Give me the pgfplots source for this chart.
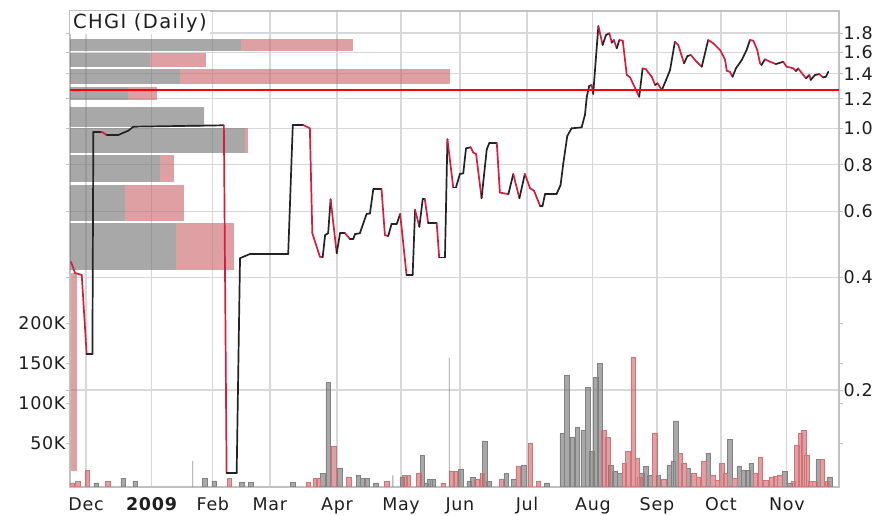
\documentclass[border=0pt]{standalone}
\usepackage{pgfplots}
\pgfplotsset{compat=1.18}
\usepackage{fontspec}
\setmainfont{DejaVu Sans}
\newfontfamily\labfont[LetterSpace=4]{DejaVu Sans}
\newfontfamily\ttlfont[LetterSpace=7]{DejaVu Sans}
\definecolor{gridc}{RGB}{216,216,216}
\definecolor{framec}{RGB}{192,192,192}
\definecolor{labc}{RGB}{30,30,30}
\definecolor{vgray}{RGB}{110,110,110}
\definecolor{vpink}{RGB}{200,97,100}
\definecolor{vgrayE}{RGB}{130,130,130}
\definecolor{vpinkE}{RGB}{210,115,120}

\pgfplotstableread{
d p m
-4.9 0.440 1
-3.6 0.411 1
-1.4 0.406 1
0.2 0.250 0
2.1 0.250 0
2.4 0.980 0
5.1 0.980 1
6.8 0.961 0
10.6 0.961 0
13.9 0.987 0
15.5 1.011 0
45.2 1.020 1
46.1 0.120 0
49.4 0.120 0
50.5 0.450 0
52.1 0.456 0
53.8 0.462 0
66.3 0.462 0
67.8 1.022 0
71.2 1.022 1
73.4 1.001 1
74.2 0.525 1
76.7 0.454 1
77.6 0.453 0
78.4 0.519 0
79.4 0.525 0
80.2 0.647 1
82.2 0.464 0
83.3 0.525 0
84.9 0.525 1
86.6 0.506 0
87.6 0.506 0
88.2 0.522 0
89.8 0.525 0
92.0 0.591 0
93.1 0.593 0
94.2 0.688 0
96.9 0.688 1
98.0 0.519 1
99.1 0.516 0
100.2 0.556 0
101.9 0.556 0
103.0 0.591 1
105.1 0.406 0
107.1 0.406 0
107.9 0.606 1
109.3 0.546 0
110.4 0.647 0
111.1 0.647 1
112.2 0.558 0
115.0 0.558 1
115.8 0.452 0
117.7 0.452 0
118.5 0.936 1
120.4 0.696 0
121.3 0.696 0
122.6 0.756 0
123.7 0.759 0
124.6 0.885 0
126.1 0.891 1
127.0 0.862 1
127.9 0.855 1
129.7 0.651 0
131.4 0.880 0
132.2 0.913 0
134.7 0.913 1
135.7 0.674 1
138.5 0.668 0
140.1 0.756 1
142.1 0.651 0
143.9 0.756 1
145.6 0.692 1
146.9 0.682 1
148.9 0.621 0
149.7 0.621 0
150.5 0.668 0
154.3 0.668 0
155.6 0.706 0
156.5 0.807 0
157.8 0.955 0
159.2 1.001 0
162.5 1.007 0
163.6 1.087 0
164.2 1.216 0
165.0 1.299 0
165.8 1.307 1
166.3 1.237 0
168.0 1.879 1
169.4 1.672 0
170.5 1.778 0
171.6 1.797 1
172.4 1.696 0
173.1 1.724 1
174.0 1.638 0
174.9 1.724 1
176.0 1.717 1
177.3 1.390 1
178.4 1.370 1
180.6 1.254 1
181.4 1.216 0
182.5 1.448 1
183.6 1.440 1
184.4 1.410 1
185.5 1.375 1
186.6 1.307 0
187.4 1.321 1
188.8 1.267 0
190.2 1.348 0
191.5 1.433 0
193.1 1.706 1
194.2 1.672 1
196.1 1.494 0
197.2 1.562 0
198.3 1.572 1
200.2 1.508 1
201.9 1.463 0
204.0 1.724 1
205.7 1.689 1
207.9 1.621 1
209.5 1.531 1
210.1 1.427 1
211.1 1.418 1
212.0 1.375 0
213.1 1.448 0
215.0 1.524 0
216.6 1.621 0
217.7 1.724 1
218.8 1.717 1
220.1 1.621 1
221.0 1.494 1
221.5 1.478 0
222.6 1.531 1
224.3 1.508 1
226.2 1.487 0
228.6 1.508 1
229.7 1.463 1
231.9 1.448 1
232.8 1.424 0
233.5 1.448 1
235.2 1.390 1
236.1 1.362 0
237.2 1.390 1
237.6 1.348 0
239.0 1.390 0
240.4 1.398 1
241.7 1.370 0
242.6 1.375 0
243.4 1.418 0
}\price

\pgfplotstableread{
d v
3.3 0.5
12.2 6
16.1 3
39.0 6
42.0 3
51.0 1
54.0 1
67.8 1
77.6 12.5
79.4 126
83.2 19
89.3 10
90.8 6
92.0 6
95.0 0.5
103.7 8
110.3 35
111.5 0.5
112.7 5
113.7 5
122.8 17.5
125.6 3
126.8 8
130.8 53
132.1 2
137.8 12.5
140.2 5
143.5 23
151.0 0.5
156.1 62
157.7 135
159.4 58
161.1 70
163.0 66
164.6 120
165.9 40
167.2 132
168.5 150
172.0 23
173.4 14.5
175.1 12.5
182.3 13
183.6 21
184.9 10
187.6 10
191.2 23
192.5 28
193.4 78
197.5 19
204.0 37.5
211.0 55
214.2 21
215.7 16.5
216.9 16
218.1 25
229.2 15
230.7 0.5
240.1 30
243.9 8
}\volgray

\pgfplotstableread{
d v
35.0 28
100.6 10
119.1 157
}\volthin

\pgfplotstableread{
d v
-4.7 0.5
-2.7 3
0.4 16
7.1 3
47.0 6
72.8 1
75.1 6
76.2 6
81.2 46
86.2 8
98.7 3
104.6 10
105.7 10
109.1 13
117.1 0.5
120.0 15
121.0 15
128.2 5
129.9 12.5
136.2 5
141.7 21
145.6 50
148.3 3
169.8 66
171.0 57
176.5 25
177.6 40
179.4 158
180.7 31
181.6 8
186.5 63
189.4 5
194.8 37.5
196.0 25
199.2 12.5
200.8 8
202.5 28
205.5 10
207.0 4
208.5 25
209.6 12.5
212.7 6
219.5 12.5
221.1 33
222.9 4
224.8 8
226.0 9
227.5 10
231.9 2
233.0 48
234.2 62
235.3 66
236.4 35
237.5 2
238.9 2
241.4 30
243.0 2
}\volpink

\newcommand\vbp[4]{%
  \addplot[fill=vgray, fill opacity=0.6, draw=none] coordinates {(0,#1) (#3,#1) (#3,#2) (0,#2)} -- cycle;
  \addplot[fill=vpink, fill opacity=0.6, draw=none] coordinates {(#3,#1) (#4,#1) (#4,#2) (#3,#2)} -- cycle;
}

\pgfplotsset{
  base/.style={at={(70pt,29pt)}, anchor=south west, scale only axis,
    width=769pt, height=476pt},
  lab/.style={font=\labfont\fontsize{17.5pt}{20pt}\selectfont, text=labc},
}

\begin{document}
\begin{tikzpicture}
\useasboundingbox (0,0) rectangle (881pt,516pt);
% grid, frame, price labels
\begin{axis}[base,
  xmin=-5.25, xmax=246.9,
  ymode=log, ymin=0.1101, ymax=2.061,
  xtick={0,21.6,41.6,60.3,82.3,103.3,122.6,144.6,166.2,187.2,208.2,229.8},
  xticklabels={Dec,\textbf{2009},Feb,Mar,Apr,May,Jun,Jul,Aug,Sep,Oct,Nov},
  ytick={0.2,0.4,0.6,0.8,1,1.2,1.4,1.6,1.8},
  yticklabels={0.2,0.4,0.6,0.8,1.0,1.2,1.4,1.6,1.8},
  yticklabel pos=right,
  grid=major,
  major grid style={line width=1.2pt, draw=gridc},
  axis line style={draw=framec, line width=1.2pt},
  xtick style={draw=none},
  ytick style={draw=framec, line width=0.8pt},
  tick align=outside, major tick length=4pt,
  ticklabel style={lab},
  yticklabel style={xshift=-3pt},
  xticklabel style={yshift=-3pt},
  /pgf/number format/assume math mode=true,
]
\end{axis}
% volume by price
\begin{axis}[base, hide axis,
  xmin=0, xmax=769,
  ymode=log, ymin=0.1101, ymax=2.061]
\vbp{1.614}{1.731}{170.7}{283}
\vbp{1.463}{1.588}{80}{136}
\vbp{1.315}{1.440}{110}{380}
\vbp{1.192}{1.289}{58}{87}
\vbp{1.011}{1.144}{134}{134}
\vbp{0.862}{1.001}{175}{178}
\vbp{0.721}{0.850}{90}{104}
\vbp{0.567}{0.706}{55}{114}
\vbp{0.419}{0.558}{106}{164}
\end{axis}
% volume
\begin{axis}[base,
  xmin=-5.25, xmax=246.9,
  ymin=0, ymax=595,
  y filter/.expression={y+4.6},
  xtick=\empty,
  ytick={54.6,104.6,154.6,204.6},
  yticklabels={50K,100K,150K,200K},
  yticklabel pos=left,
  axis line style={draw=none},
  ytick style={draw=framec, line width=0.8pt},
  tick align=outside, major tick length=4pt,
  ticklabel style={lab},
  yticklabel style={xshift=3pt},
]
\addplot[fill=vpink, fill opacity=0.6, draw=none] coordinates {(-4.9,15.75) (-3.0,15.75) (-3.0,263) (-4.9,263)} -- cycle;
\addplot[ybar, bar width=1.5, bar shift=0pt, fill=vgray, fill opacity=0.6, draw=vgrayE, line width=0.5pt] table[x=d, y=v] {\volgray};
\addplot[ybar, bar width=1.5, bar shift=0pt, fill=vpink, fill opacity=0.6, draw=vpinkE, line width=0.5pt] table[x=d, y=v] {\volpink};
\addplot[ybar, bar width=0.3, bar shift=0pt, fill=vgray, fill opacity=0.7, draw=none] table[x=d, y=v] {\volthin};
\end{axis}
% price line
\begin{axis}[base, hide axis,
  xmin=-5.25, xmax=246.9,
  ymode=log, ymin=0.1101, ymax=2.061]
\addplot[mesh, shader=flat corner, point meta=explicit,
  colormap={updn}{rgb255=(35,35,35) rgb255=(214,28,64)},
  point meta min=0, point meta max=1,
  line width=1.7pt, line cap=round, line join=round]
  table[x=d, y=p, meta=m] {\price};
\addplot[draw=red, line width=2pt] coordinates {(-5.25,1.267) (246.9,1.267)};
\node[anchor=north west, fill=white, inner xsep=3pt, inner ysep=2pt,
  font=\ttlfont\fontsize{19.5pt}{22pt}\selectfont, text=labc]
  at (rel axis cs:0,1) {CHGI (Daily)};
\end{axis}
\end{tikzpicture}
\end{document}
